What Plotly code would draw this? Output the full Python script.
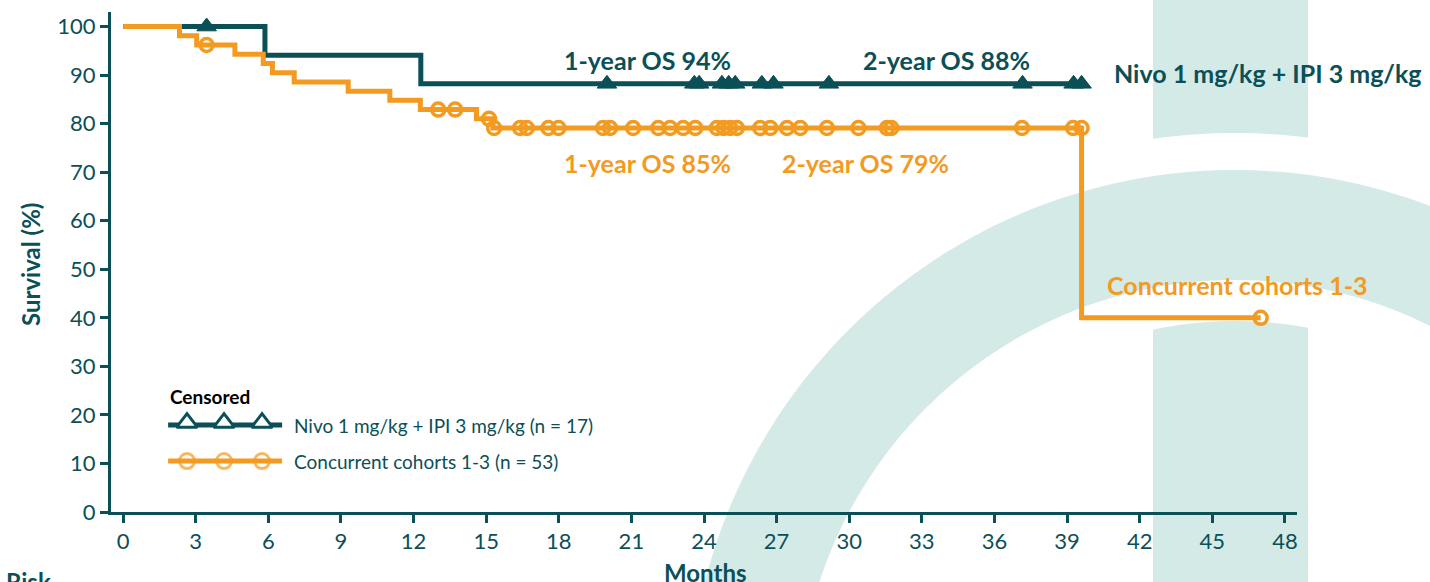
import numpy as np
import plotly.graph_objects as go

# ---- figure geometry (pixels) ----
W, H = 1430, 582
ML, MR, MT, MB = 111, 133, 12, 70
PW, PH = W - ML - MR, H - MT - MB

TEAL = "#0b4f57"
ORANGE = "#f39a21"
PALE = "#d3eae7"
FONT = "Lato"

# ---- Kaplan-Meier data ----
# Nivo 1 mg/kg + IPI 3 mg/kg (n = 17)
nivo_t = [0, 5.86, 12.3, 39.6]
nivo_s = [100, 94.1, 88.2, 88.2]
nivo_cens_t = [3.45, 19.99, 23.6, 23.8, 24.74, 25.02, 25.29, 26.39, 26.87,
               29.16, 37.16, 39.27, 39.6]
nivo_cens_s = [100, 88.2, 88.2, 88.2, 88.2, 88.2, 88.2, 88.2, 88.2,
               88.2, 88.2, 88.2, 88.2]

# Concurrent cohorts 1-3 (n = 53)
conc_t = [0, 2.33, 3.04, 4.62, 5.79, 6.17, 7.07, 9.3, 11.02, 12.28, 14.6,
          15.28, 39.6, 47.0]
conc_s = [100, 98.1, 96.2, 94.3, 92.4, 90.5, 88.6, 86.7, 84.8, 82.9, 81.0,
          79.1, 40.0, 40.0]
conc_cens_t = [3.45, 13.02, 13.72, 15.12, 15.33, 16.40, 16.68, 17.57, 17.99,
               19.83, 20.12, 21.07, 22.11, 22.6, 23.14, 23.64, 24.53, 24.81,
               25.08, 25.36, 26.32, 26.74, 27.43, 27.98, 29.08, 30.38, 31.56,
               31.74, 37.14, 39.25, 39.6, 47.0]
conc_cens_s = [96.2, 82.9, 82.9, 81.0, 79.1, 79.1, 79.1, 79.1, 79.1,
               79.1, 79.1, 79.1, 79.1, 79.1, 79.1, 79.1, 79.1, 79.1,
               79.1, 79.1, 79.1, 79.1, 79.1, 79.1, 79.1, 79.1, 79.1,
               79.1, 79.1, 79.1, 79.1, 40.0]

x_ticks = list(range(0, 49, 3))
y_ticks = list(range(0, 101, 10))

legend_names = ["Nivo 1 mg/kg + IPI 3 mg/kg (n = 17)",
                "Concurrent cohorts 1-3 (n = 53)"]


def to_paper(px, py):
    return (px - ML) / PW, (H - MB - py) / PH


def circle_pts(cx, cy, r, reverse=False, n=360):
    ang = np.linspace(0, 2 * np.pi, n, endpoint=False)
    if reverse:
        ang = ang[::-1]
    pts = [to_paper(cx + r * np.cos(a), cy + r * np.sin(a)) for a in ang]
    return "M " + " L ".join(f"{x:.5f},{y:.5f}" for x, y in pts) + " Z"


def ring(cx, cy, r_out, r_in):
    return circle_pts(cx, cy, r_out) + " " + circle_pts(cx, cy, r_in, reverse=True)


fig = go.Figure()

# ---- decorative logo behind the plot ----
bx0, by0 = to_paper(1153, 600)
bx1, by1 = to_paper(1308, -10)
shapes = [
    dict(type="rect", xref="paper", yref="paper", x0=bx0, x1=bx1, y0=by0, y1=by1,
         fillcolor=PALE, line=dict(width=0), layer="below"),
    dict(type="path", xref="paper", yref="paper", path=ring(1235, 717, 584, 396),
         fillcolor="white", line=dict(width=0), layer="below"),
    dict(type="path", xref="paper", yref="paper", path=ring(1235, 717, 547, 437),
         fillcolor=PALE, line=dict(width=0), layer="below"),
]

# ---- survival curves ----
fig.add_trace(go.Scatter(x=nivo_t, y=nivo_s, mode="lines", line_shape="hv",
                         line=dict(color=TEAL, width=5), showlegend=False,
                         hoverinfo="skip"))
fig.add_trace(go.Scatter(x=nivo_cens_t, y=nivo_cens_s, mode="markers",
                         marker=dict(symbol="triangle-up", size=17, color=TEAL,
                                     line=dict(color=TEAL, width=1)),
                         showlegend=False))
fig.add_trace(go.Scatter(x=conc_t, y=conc_s, mode="lines", line_shape="hv",
                         line=dict(color=ORANGE, width=5), showlegend=False,
                         hoverinfo="skip"))
fig.add_trace(go.Scatter(x=conc_cens_t, y=conc_cens_s, mode="markers",
                         marker=dict(symbol="circle-open", size=13, color=ORANGE,
                                     line=dict(color=ORANGE, width=3.5)),
                         showlegend=False))

# ---- hand-drawn legend ----
leg_x = [1.86, 2.64, 4.17, 5.74, 6.57]
leg_sizes = [0, 17, 17, 17, 0]
fig.add_trace(go.Scatter(x=leg_x, y=[17.9] * 5, mode="lines",
                         line=dict(color=TEAL, width=5),
                         showlegend=False, hoverinfo="skip"))
fig.add_trace(go.Scatter(x=leg_x[1:4], y=[18.4] * 3, mode="markers",
                         marker=dict(symbol="triangle-up", size=18, color="white",
                                     line=dict(color=TEAL, width=3)),
                         showlegend=False, hoverinfo="skip"))
fig.add_trace(go.Scatter(x=leg_x, y=[10.5] * 5, mode="lines+markers",
                         line=dict(color=ORANGE, width=5),
                         marker=dict(symbol="circle-open", size=[0, 15, 15, 15, 0],
                                     color=ORANGE, line=dict(color=ORANGE, width=3)),
                         showlegend=False, hoverinfo="skip"))

ann = []


def txt(text, x, y, color, size, bold=True, xanchor="center", **kw):
    t = f"<b>{text}</b>" if bold else text
    ann.append(dict(text=t, x=x, y=y, xref=kw.pop("xref", "x"), yref=kw.pop("yref", "y"),
                    xanchor=xanchor, yanchor=kw.pop("yanchor", "middle"), showarrow=False,
                    font=dict(family=FONT, size=size, color=color), **kw))


txt("1-year OS 94%", 21.65, 93.1, TEAL, 25)
txt("2-year OS 88%", 34.0, 93.1, TEAL, 25)
txt("Nivo 1 mg/kg + IPI 3 mg/kg", 40.87, 90.4, TEAL, 25, xanchor="left")
txt("1-year OS 85%", 21.65, 71.9, ORANGE, 25)
txt("2-year OS 79%", 30.66, 71.9, ORANGE, 25)
txt("Concurrent cohorts 1-3", 40.58, 46.8, ORANGE, 25, xanchor="left")

txt("Censored", 1.86, 23.7, "black", 19, xanchor="left")
txt(legend_names[0], 6.98, 17.9, TEAL, 19, bold=False, xanchor="left")
txt(legend_names[1], 6.98, 10.5, TEAL, 19, bold=False, xanchor="left")

# axis titles
mx, my = to_paper(705, 556)
txt("Months", mx, my, TEAL, 24, xref="paper", yref="paper", yanchor="top")
sx, sy = to_paper(30, 265)
txt("Survival (%)", sx, sy, TEAL, 24, xref="paper", yref="paper", textangle=-90)
rx, ry = to_paper(4, 565)
txt("Risk", rx, ry, TEAL, 24, xref="paper", yref="paper", xanchor="left", yanchor="top")

axis_common = dict(showgrid=False, zeroline=False, showline=True, linecolor=TEAL,
                   linewidth=3, ticks="outside", ticklen=8, tickwidth=2.5,
                   tickcolor=TEAL, tickfont=dict(family=FONT, size=22, color=TEAL))

fig.update_layout(
    width=W, height=H,
    margin=dict(l=ML, r=MR, t=MT, b=MB),
    paper_bgcolor="white", plot_bgcolor="rgba(0,0,0,0)",
    xaxis=dict(range=[-0.5, 48.5], tickvals=x_ticks, **axis_common),
    yaxis=dict(range=[0, 103], tickvals=y_ticks, **axis_common),
    shapes=shapes, annotations=ann,
    font=dict(family=FONT),
)

fig.write_html("out.html")
